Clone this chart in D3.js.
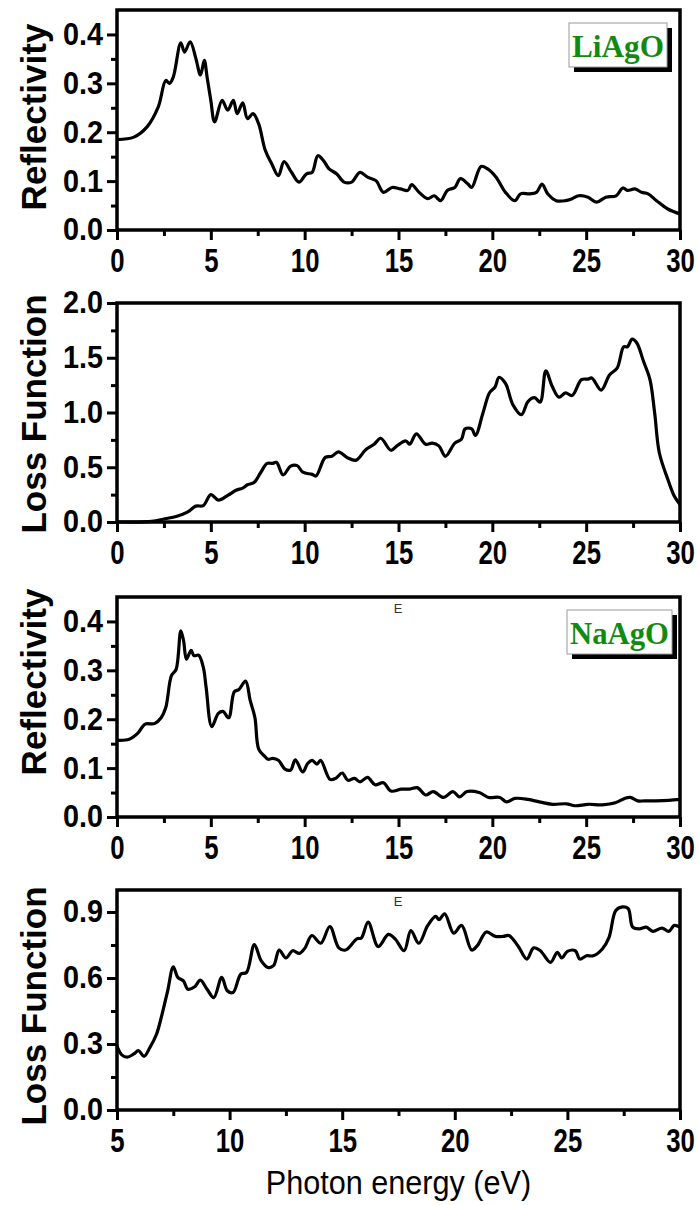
<!DOCTYPE html>
<html><head><meta charset="utf-8">
<script src="https://cdn.jsdelivr.net/npm/d3@7"></script>
<style>
body{margin:0;background:#fff;}
svg{display:block;}
</style></head>
<body>
<svg id="chart" width="698" height="1205"></svg>
<script>
// ---------- DATA ----------
const liR_E = [0,0.9,1.6,2.2,2.6,2.8,3.0,3.4,3.6,3.9,4.2,4.45,4.65,4.8,5.0,5.2,5.6,5.9,6.2,6.4,6.7,6.95,7.25,7.55,7.9,8.25,8.6,8.9,9.3,9.7,10.1,10.4,10.7,11.0,11.3,11.7,12.1,12.5,12.95,13.35,13.8,14.2,14.65,15.1,15.5,15.7,16.1,16.55,16.9,17.25,17.6,18.0,18.3,18.7,18.9,19.4,19.75,20.2,20.7,21.2,21.5,22.0,22.35,22.65,22.95,23.4,23.9,24.25,24.6,25.1,25.55,26.05,26.6,26.95,27.2,27.6,27.95,28.3,28.75,29.35,30];
const liR_V = [0.185,0.19,0.211,0.252,0.306,0.300,0.313,0.383,0.364,0.385,0.351,0.317,0.347,0.313,0.265,0.221,0.265,0.245,0.265,0.238,0.260,0.228,0.238,0.217,0.163,0.135,0.111,0.140,0.118,0.098,0.115,0.118,0.152,0.142,0.125,0.115,0.098,0.098,0.118,0.108,0.101,0.077,0.087,0.084,0.081,0.093,0.077,0.064,0.070,0.060,0.081,0.087,0.105,0.094,0.087,0.130,0.125,0.108,0.077,0.060,0.074,0.074,0.077,0.094,0.074,0.060,0.060,0.064,0.070,0.067,0.057,0.067,0.070,0.086,0.081,0.084,0.077,0.074,0.060,0.043,0.033];

const liL_E = [0,1.85,2.55,3.15,3.75,4.2,4.6,5.0,5.4,5.9,6.35,6.7,6.95,7.3,7.65,8.0,8.3,8.5,8.85,9.25,9.6,9.9,10.4,10.6,11.1,11.45,11.8,12.3,12.75,13.25,13.7,14.05,14.6,14.95,15.4,15.6,15.95,16.45,16.8,17.15,17.5,18.0,18.35,18.55,18.9,19.1,19.5,19.85,20.15,20.35,20.7,21.1,21.55,21.9,22.25,22.55,22.85,23.2,23.55,23.9,24.25,24.75,25.1,25.3,25.8,26.25,26.65,27.0,27.2,27.45,27.7,28.05,28.4,28.65,28.9,29.35,29.7,30];
const liL_V = [0,0.005,0.03,0.05,0.09,0.145,0.15,0.25,0.2,0.243,0.29,0.31,0.34,0.36,0.45,0.535,0.535,0.545,0.43,0.51,0.515,0.455,0.435,0.42,0.59,0.60,0.64,0.585,0.565,0.66,0.71,0.765,0.655,0.70,0.74,0.71,0.805,0.71,0.72,0.695,0.60,0.72,0.755,0.85,0.85,0.79,0.995,1.18,1.235,1.32,1.265,1.07,0.98,1.10,1.135,1.095,1.38,1.235,1.14,1.18,1.155,1.30,1.305,1.315,1.205,1.345,1.405,1.60,1.60,1.67,1.635,1.47,1.30,0.995,0.63,0.39,0.235,0.16];

const naR_E = [0,0.65,1.1,1.5,2.0,2.35,2.6,2.9,3.15,3.4,3.55,3.7,3.95,4.1,4.35,4.6,4.75,5.05,5.4,5.65,5.95,6.25,6.5,6.85,7.1,7.35,7.55,7.85,8.05,8.3,8.6,8.95,9.25,9.5,9.9,10.15,10.4,10.65,10.85,11.35,11.65,12.0,12.3,12.65,12.95,13.35,13.75,14.2,14.6,15.15,15.6,16.0,16.45,16.85,17.4,17.9,18.25,18.65,19.3,19.8,20.4,20.75,21.2,21.9,22.5,23.2,23.95,24.4,25.1,25.85,26.55,27.05,27.35,27.75,28.1,28.7,29.4,30];
const naR_V = [0.157,0.159,0.171,0.19,0.191,0.203,0.224,0.289,0.302,0.381,0.36,0.323,0.341,0.33,0.331,0.306,0.265,0.185,0.212,0.216,0.203,0.256,0.261,0.278,0.238,0.203,0.139,0.125,0.118,0.12,0.116,0.098,0.096,0.117,0.092,0.109,0.116,0.108,0.116,0.077,0.079,0.09,0.075,0.079,0.072,0.081,0.066,0.07,0.053,0.057,0.057,0.06,0.045,0.052,0.04,0.052,0.041,0.052,0.05,0.04,0.04,0.031,0.038,0.036,0.031,0.026,0.027,0.023,0.026,0.025,0.029,0.038,0.04,0.033,0.033,0.033,0.034,0.036];

const naL_E = [5.0,5.2,5.45,5.75,5.95,6.2,6.45,6.75,7.0,7.25,7.5,7.7,7.95,8.15,8.45,8.7,9.0,9.3,9.65,9.9,10.15,10.5,10.75,11.1,11.4,11.7,11.95,12.2,12.5,12.8,13.1,13.35,13.65,14.05,14.45,14.85,15.15,15.65,15.85,16.15,16.6,17.05,17.35,17.75,18.05,18.4,18.8,19.15,19.3,19.55,19.95,20.3,20.75,21.0,21.4,21.8,22.15,22.4,22.8,23.2,23.5,23.8,24.25,24.55,24.75,25.0,25.35,25.55,25.85,26.15,26.55,26.85,27.15,27.45,27.7,27.9,28.2,28.5,28.8,29.2,29.5,29.75,30];
const naL_V = [0.29,0.252,0.24,0.255,0.27,0.244,0.282,0.343,0.435,0.542,0.651,0.603,0.587,0.549,0.56,0.59,0.549,0.511,0.603,0.542,0.534,0.618,0.625,0.752,0.679,0.648,0.656,0.727,0.691,0.724,0.712,0.737,0.793,0.758,0.834,0.737,0.727,0.778,0.782,0.854,0.743,0.798,0.778,0.724,0.816,0.758,0.839,0.88,0.865,0.892,0.804,0.839,0.727,0.747,0.809,0.789,0.789,0.793,0.747,0.686,0.737,0.724,0.671,0.717,0.691,0.721,0.724,0.686,0.701,0.701,0.732,0.785,0.907,0.923,0.915,0.831,0.823,0.831,0.812,0.827,0.812,0.839,0.831];

const yTitles = ["Reflectivity","Loss Function","Reflectivity","Loss Function"];
const legendLabels = ["LiAgO", null, "NaAgO", null];
const xTitle = "Photon energy (eV)";

// ---------- LAYOUT ----------
const L = 117, R = 680;
const panels = [
  {E: liR_E, V: liR_V, top: 10,  bottom: 230,  xd:[0,30], yd:[0,0.45], yMajor:[0,0.1,0.2,0.3,0.4], yMinor:[0.05,0.15,0.25,0.35], title: yTitles[0], titleY: 117, legend: legendLabels[0], legBox:[569,23,98,44], E_mark:false},
  {E: liL_E, V: liL_V, top: 303, bottom: 522,  xd:[0,30], yd:[0,2.0],  yMajor:[0,0.5,1.0,1.5,2.0], yMinor:[0.25,0.75,1.25,1.75], title: yTitles[1], titleY: 414, legend: legendLabels[1], E_mark:false},
  {E: naR_E, V: naR_V, top: 597, bottom: 817,  xd:[0,30], yd:[0,0.45], yMajor:[0,0.1,0.2,0.3,0.4], yMinor:[0.05,0.15,0.25,0.35], title: yTitles[2], titleY: 682, legend: legendLabels[2], legBox:[567,610,105,44], E_mark:true},
  {E: naL_E, V: naL_V, top: 890, bottom: 1110, xd:[5,30], yd:[0,1.0],  yMajor:[0,0.3,0.6,0.9], yMinor:[0.15,0.45,0.75], title: yTitles[3], titleY: 1006, legend: legendLabels[3], E_mark:true}
];

const svg = d3.select("#chart");
const tickFont = "'Liberation Sans',Arial,sans-serif";
const SX = 0.78;      // horizontal condensing of x tick labels
const TFS = 33;       // x tick label font size
const SY = 0.93;      // horizontal condensing of y tick labels
const YFS = 31;       // y tick label font size

panels.forEach((p, i) => {
  const x = d3.scaleLinear().domain(p.xd).range([L, R]);
  const y = d3.scaleLinear().domain(p.yd).range([p.bottom, p.top]);
  const g = svg.append("g");

  const xMaj = d3.range(p.xd[0], p.xd[1] + 0.001, 5);
  const xMin = d3.range(p.xd[0] + 2.5, p.xd[1], 5);

  // minor x ticks
  g.append("g").attr("transform", `translate(0,${p.bottom})`)
    .call(d3.axisBottom(x).tickValues(xMin).tickSize(6).tickSizeOuter(0).tickFormat(""))
    .call(a => a.select(".domain").remove())
    .selectAll("line").attr("stroke-width", 3);
  // major x ticks
  const xa = g.append("g").attr("transform", `translate(0,${p.bottom})`)
    .call(d3.axisBottom(x).tickValues(xMaj).tickSize(10).tickSizeOuter(0).tickPadding(9).tickFormat(d3.format("d")));
  xa.select(".domain").remove();
  xa.selectAll("line").attr("stroke-width", 3);
  xa.selectAll("text").attr("font-family", tickFont).attr("font-weight", "bold")
    .attr("font-size", TFS).attr("fill", "#000").attr("transform", `scale(${SX},1)`);

  // minor y ticks
  g.append("g").attr("transform", `translate(${L},0)`)
    .call(d3.axisLeft(y).tickValues(p.yMinor).tickSize(6).tickSizeOuter(0).tickFormat(""))
    .call(a => a.select(".domain").remove())
    .selectAll("line").attr("stroke-width", 3);
  const ya = g.append("g").attr("transform", `translate(${L},0)`)
    .call(d3.axisLeft(y).tickValues(p.yMajor).tickSize(10).tickSizeOuter(0).tickPadding(4).tickFormat(d3.format(".1f")));
  ya.select(".domain").remove();
  ya.selectAll("line").attr("stroke-width", 3);
  ya.selectAll("text").attr("font-family", tickFont).attr("font-weight", "bold")
    .attr("font-size", YFS).attr("fill", "#000")
    .attr("x", -14 / SY).attr("transform", `scale(${SY},1)`);

  // frame
  g.append("rect").attr("x", L).attr("y", p.top).attr("width", R - L).attr("height", p.bottom - p.top)
    .attr("fill", "none").attr("stroke", "#000").attr("stroke-width", 3.5);

  // curve
  const data = p.E.map((e, k) => [e, p.V[k]]);
  g.append("path").datum(data)
    .attr("fill", "none").attr("stroke", "#000").attr("stroke-width", 3.2)
    .attr("stroke-linejoin", "round")
    .attr("d", d3.line().x(d => x(d[0])).y(d => y(d[1])).curve(d3.curveCatmullRom.alpha(0.5)));

  // y title
  g.append("text").attr("transform", `translate(33,${p.titleY}) rotate(-90)`)
    .attr("text-anchor", "middle").attr("dominant-baseline", "central")
    .attr("font-family", "'Liberation Sans',Arial,sans-serif").attr("font-weight", "bold")
    .attr("font-size", 35).text(p.title);

  // legend
  if (p.legend) {
    const [bx, by, bw, bh] = p.legBox;
    g.append("rect").attr("x", bx + 5).attr("y", by + 5).attr("width", bw).attr("height", bh).attr("fill", "#000");
    g.append("rect").attr("x", bx).attr("y", by).attr("width", bw).attr("height", bh)
      .attr("fill", "#fff").attr("stroke", "#999").attr("stroke-width", 1);
    g.append("text").attr("x", bx + bw / 2).attr("y", by + bh - 10)
      .attr("text-anchor", "middle").attr("font-family", "'Liberation Serif','Times New Roman',serif")
      .attr("font-weight", "bold").attr("font-size", 31).attr("fill", "#128a12")
      .attr("textLength", bw - 6).attr("lengthAdjust", "spacingAndGlyphs").text(p.legend);
  }
  if (p.E_mark) {
    g.append("text").attr("x", 398).attr("y", p.top + 16).attr("text-anchor", "middle")
      .attr("font-family", "'Liberation Sans',Arial,sans-serif").attr("font-size", 13).attr("fill", "#333").text("E");
  }
});

svg.append("text").attr("x", (L + R) / 2 / 0.9).attr("y", 1194).attr("text-anchor", "middle")
  .attr("transform", "scale(0.9,1)")
  .attr("font-family", tickFont).attr("font-size", 34).attr("fill", "#000").text(xTitle);
</script>
</body></html>
